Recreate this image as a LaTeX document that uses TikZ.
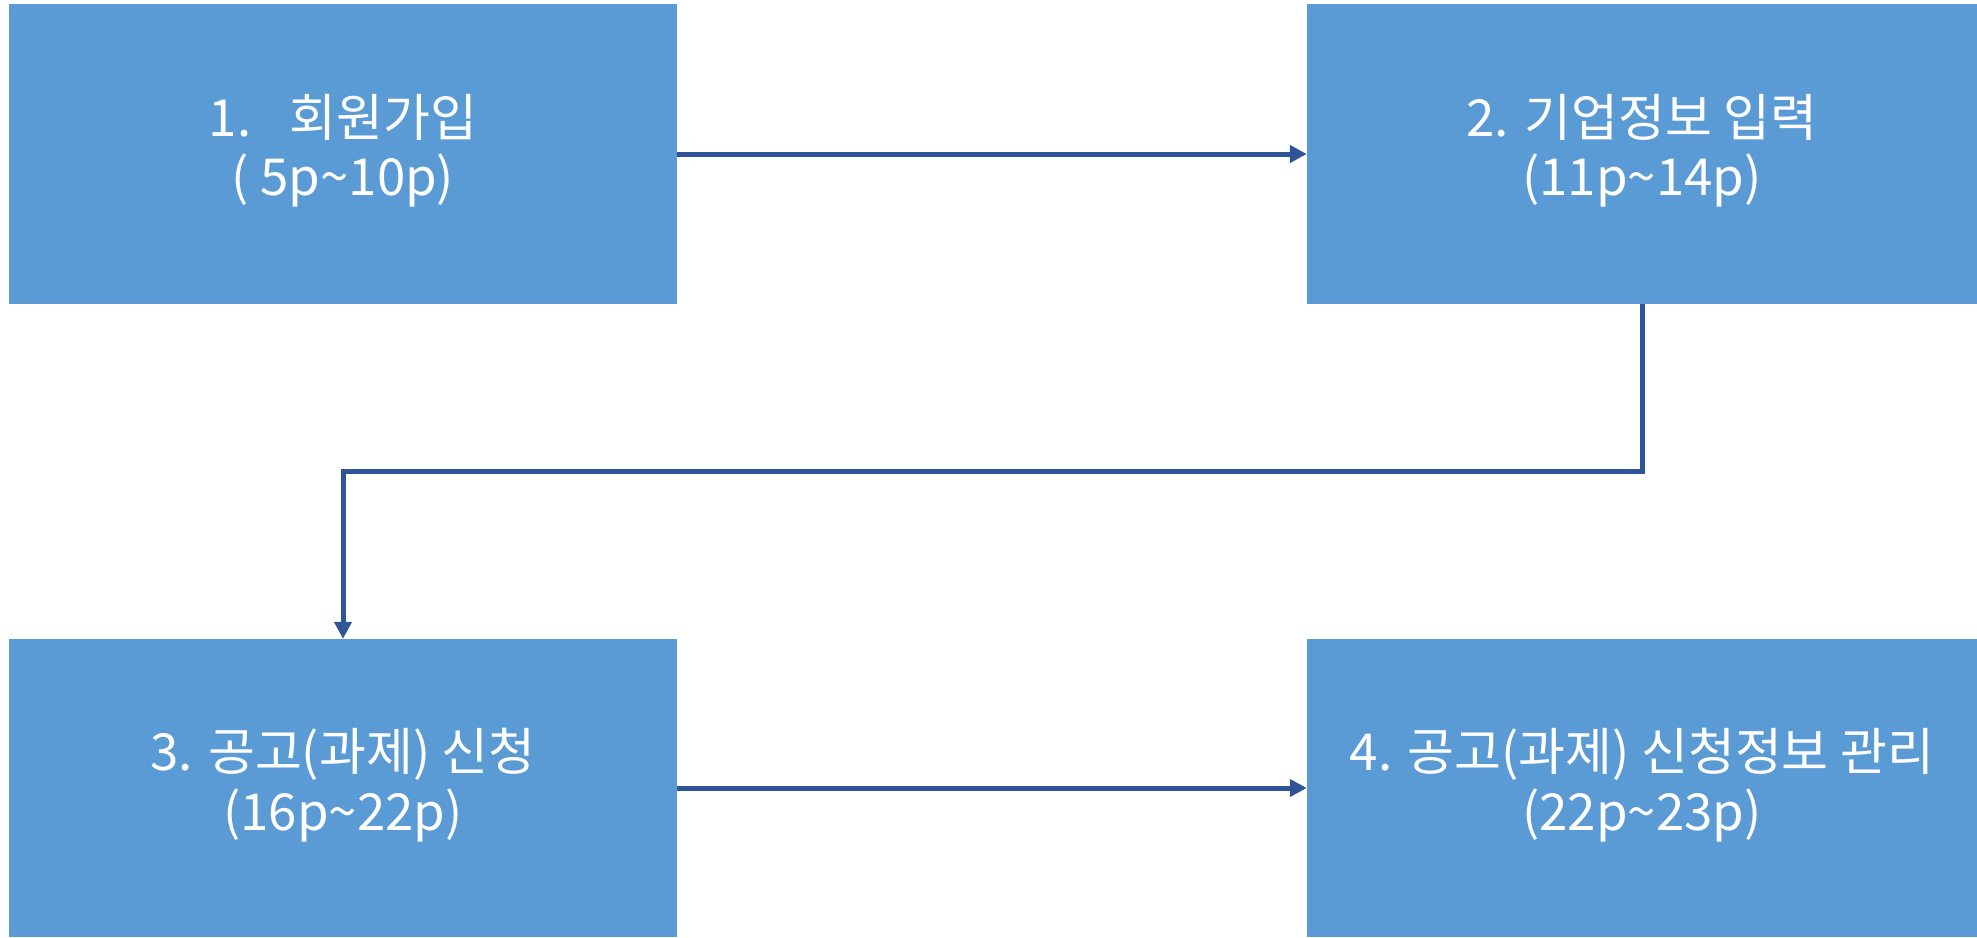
\documentclass[tikz,border=0pt]{standalone}
\usepackage{fontspec}
\setmainfont{Noto Sans CJK KR}
\usetikzlibrary{arrows.meta}
\definecolor{boxblue}{HTML}{5B9BD5}
\definecolor{linkblue}{HTML}{2F5597}
\newcommand{\twolines}[2]{\raisebox{-5pt}{\begin{tabular}{@{}c@{}}#1\\#2\end{tabular}}}
\tikzset{
  stagebox/.style={rectangle, fill=boxblue, draw=none, inner sep=0pt,
    text=white, font=\fontsize{51}{59}\selectfont},
  flowline/.style={draw=linkblue, line width=5pt,
    -{Triangle[length=17pt,width=17pt]}}
}
\begin{document}
\begin{tikzpicture}[x=1pt,y=-1pt]
\useasboundingbox (0,0) rectangle (1977,937);
\node[stagebox, minimum width=668pt, minimum height=300pt] (b1) at (343,154)
  {\twolines{1.\hspace{0.75em}회원가입}{( 5p\textasciitilde10p)}};
\node[stagebox, minimum width=670pt, minimum height=300pt] (b2) at (1642,154)
  {\twolines{2. 기업정보 입력}{(11p\textasciitilde14p)}};
\node[stagebox, minimum width=668pt, minimum height=298pt] (b3) at (343,788)
  {\twolines{3. 공고(과제) 신청}{(16p\textasciitilde22p)}};
\node[stagebox, minimum width=670pt, minimum height=298pt] (b4) at (1642,788)
  {\twolines{4. 공고(과제) 신청정보 관리}{(22p\textasciitilde23p)}};
\coordinate (mid) at (0,471);
\draw[flowline] (b1.east) -- (b2.west);
\draw[flowline] (b2.south) |- (b3.north |- mid) -- (b3.north);
\draw[flowline] (b3.east) -- (b4.west);
\end{tikzpicture}
\end{document}
